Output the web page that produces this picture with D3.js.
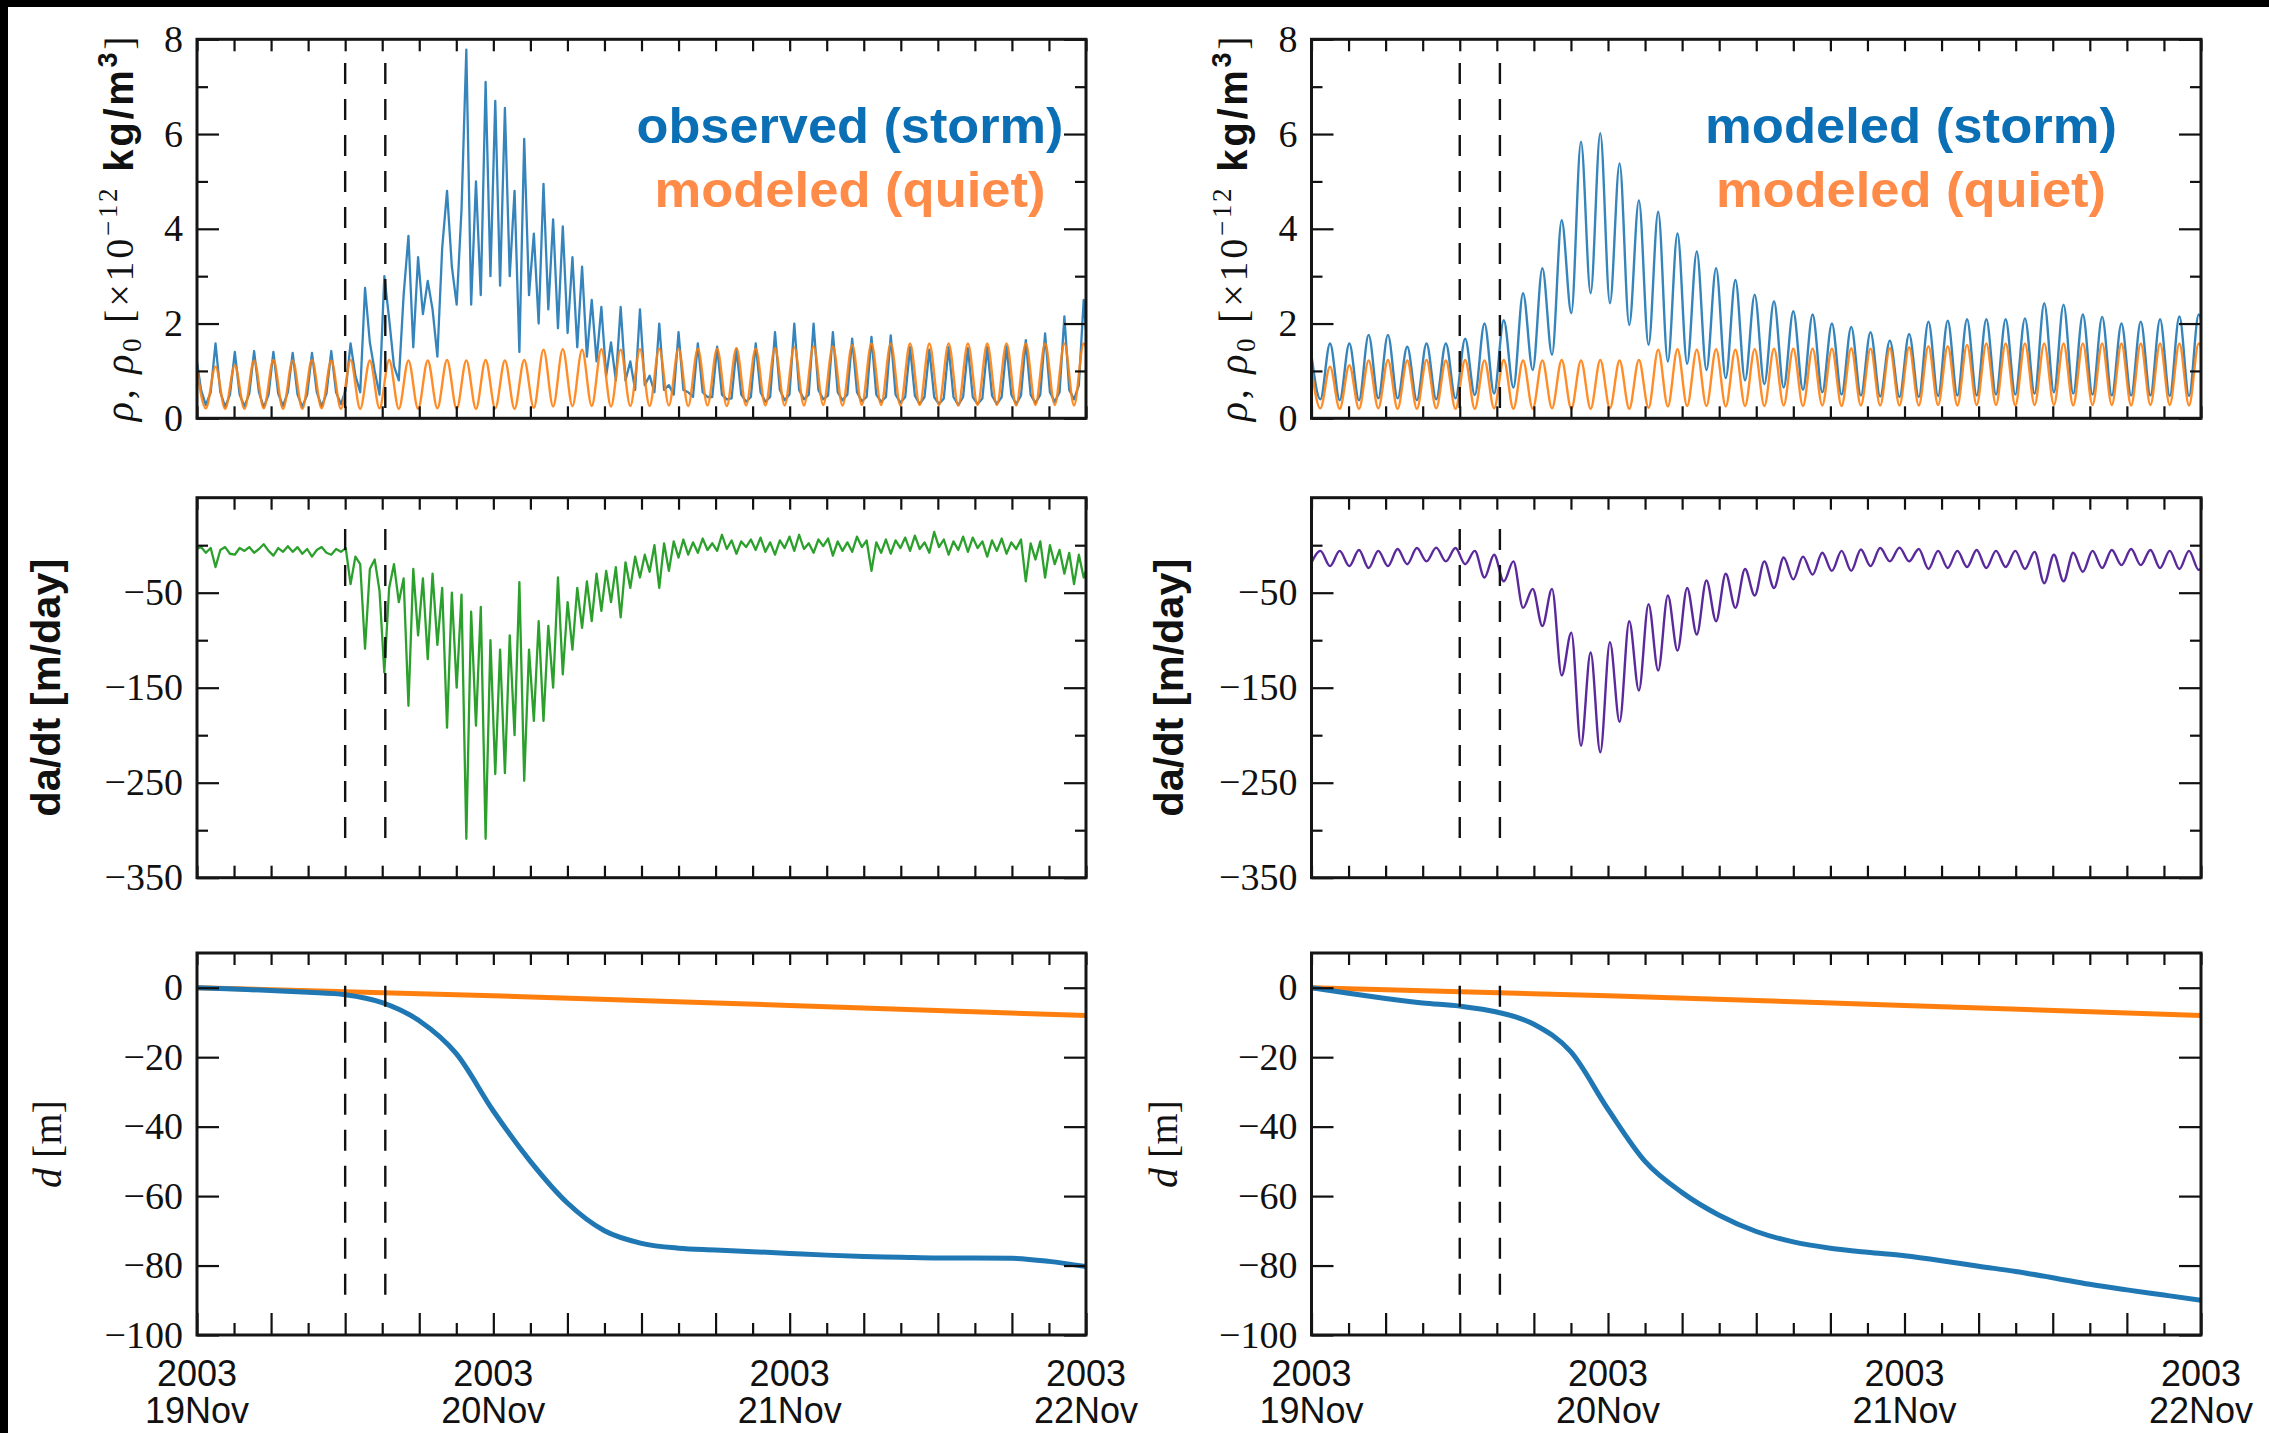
<!DOCTYPE html>
<html>
<head>
<meta charset="utf-8">
<script src="https://cdn.jsdelivr.net/npm/d3@7"></script>
<style>
  html, body { margin: 0; padding: 0; background: #000; }
  svg { display: block; }
</style>
</head>
<body>
<div id="chart"></div>
<script>
// Orbit sampling: one peak per orbit, first peak at 1.5 h
const orbitPeriod = 1.5625; // hours
const gridStart = -0.0625;  // hours from 19 Nov 00:00
const eventHours = [12, 15.25];
const dayTickHours = [0, 24, 48, 72];
const yearLabel = "2003";

// density ticks [x10^-12 kg/m^3]
const densityTicks = [0, 1, 2, 3, 4, 5, 6, 7, 8];
const densityLabels = [0, 2, 4, 6, 8];
// da/dt ticks [m/day]
const dadtTicks = [-350, -300, -250, -200, -150, -100, -50, 0];
const dadtLabels = [-350, -250, -150, -50];
// d ticks [m]
const decayTicks = [-100, -80, -60, -40, -20, 0];

// modeled quiet density, half-orbit samples (peak, trough) per orbit
const quietDensity = [
  1.15, 0.21, 1.09, 0.20, 1.12, 0.20, 1.22, 0.21, 1.23, 0.20, 1.22, 0.20,
  1.23, 0.21, 1.22, 0.20, 1.23, 0.20, 1.22, 0.21, 1.23, 0.20, 1.22, 0.20,
  1.22, 0.21, 1.23, 0.20, 1.22, 0.20, 1.23, 0.21, 1.22, 0.20, 1.23, 0.22,
  1.45, 0.25, 1.46, 0.26, 1.45, 0.26, 1.46, 0.25, 1.45, 0.26, 1.46, 0.26,
  1.47, 0.27, 1.47, 0.26, 1.47, 0.27, 1.47, 0.26, 1.48, 0.27, 1.47, 0.27,
  1.48, 0.27, 1.50, 0.27, 1.52, 0.28, 1.52, 0.27, 1.55, 0.28, 1.58, 0.28,
  1.58, 0.27, 1.58, 0.28, 1.58, 0.28, 1.58, 0.27, 1.58, 0.28, 1.58, 0.28,
  1.58, 0.27, 1.58, 0.28, 1.58, 0.28, 1.58, 0.27, 1.58, 0.28
];

// observed storm density, quarter-orbit samples (peak, q1, trough, q3)
const observedDensity = [
  1.30, 0.60, 0.28, 0.55,
  1.58, 0.55, 0.24, 0.50,
  1.40, 0.50, 0.25, 0.52,
  1.42, 0.55, 0.23, 0.50,
  1.40, 0.52, 0.26, 0.55,
  1.38, 0.50, 0.24, 0.50,
  1.38, 0.55, 0.25, 0.52,
  1.42, 0.55, 0.30, 0.60,
  1.58, 0.90, 0.55, 2.75,
  1.60, 1.00, 0.50, 3.00,
  2.10, 1.10, 0.80, 2.60,
  3.85, 1.50, 3.40, 2.20,
  2.90, 2.30, 1.30, 3.60,
  4.80, 3.20, 2.40, 4.40,
  7.78, 2.40, 5.00, 2.60,
  7.10, 3.00, 6.70, 2.80,
  6.55, 3.00, 4.80, 1.40,
  5.90, 2.60, 3.90, 2.00,
  4.95, 2.30, 4.20, 1.90,
  4.05, 1.80, 3.40, 1.50,
  3.20, 1.30, 2.50, 1.20,
  2.35, 0.90, 1.60, 0.80,
  2.35, 0.80, 1.20, 0.60,
  2.30, 0.70, 0.90, 0.55,
  2.00, 0.60, 0.70, 0.50,
  1.82, 0.60, 0.55, 0.45,
  1.58, 0.55, 0.45, 0.45,
  1.51, 0.50, 0.40, 0.42,
  1.47, 0.50, 0.35, 0.45,
  1.58, 0.55, 0.35, 0.45,
  1.82, 0.60, 0.38, 0.50,
  2.00, 0.60, 0.40, 0.50,
  2.00, 0.60, 0.40, 0.48,
  1.82, 0.55, 0.38, 0.50,
  1.68, 0.55, 0.36, 0.45,
  1.72, 0.50, 0.35, 0.45,
  1.75, 0.50, 0.33, 0.45,
  1.50, 0.48, 0.30, 0.45,
  1.45, 0.45, 0.30, 0.42,
  1.50, 0.45, 0.28, 0.45,
  1.48, 0.45, 0.30, 0.42,
  1.50, 0.48, 0.30, 0.45,
  1.52, 0.50, 0.30, 0.48,
  1.65, 0.50, 0.32, 0.50,
  1.79, 0.55, 0.35, 0.55,
  2.15, 0.60, 0.40, 0.70,
  2.50, 1.20
];

// modeled storm density, half-orbit samples (peak, trough)
const modeledDensity = [
  1.45, 0.40, 1.58, 0.38, 1.58, 0.38, 1.76, 0.42, 1.76, 0.42, 1.51, 0.38,
  1.58, 0.40, 1.58, 0.42, 1.68, 0.49, 2.00, 0.52, 2.07, 0.65, 2.64, 1.02,
  3.17, 1.34, 4.18, 2.22, 5.84, 2.64, 6.02, 2.43, 5.38, 1.97, 4.60, 1.55,
  4.36, 1.20, 3.90, 1.15, 3.52, 1.02, 3.17, 0.85, 2.92, 0.80, 2.61, 0.72,
  2.47, 0.65, 2.26, 0.60, 2.19, 0.55, 2.00, 0.50, 1.93, 0.48, 1.82, 0.46,
  1.64, 0.45, 1.78, 0.45, 2.04, 0.47, 2.06, 0.48, 2.09, 0.48, 2.09, 0.50,
  2.09, 0.50, 2.11, 0.52, 2.43, 0.55, 2.40, 0.52, 2.19, 0.50, 2.14, 0.48,
  2.00, 0.48, 2.04, 0.48, 2.09, 0.47, 2.15, 0.47, 2.19, 0.47
];

// observed da/dt [m/day], quarter-orbit samples
const observedDadt = [
  -4, -2, -8, -3,
  -23, -5, -2, -9,
  -10, -3, -6, -2,
  -8, -4, 1, -6,
  -11, -3, -7, -1,
  -7, -2, -9, -4,
  -12, -5, -2, -8,
  -10, -4, -7, -3,
  -41, -12, -20, -109,
  -25, -15, -48, -134,
  -45, -20, -60, -35,
  -169, -25, -95, -35,
  -120, -30, -105, -45,
  -192, -50, -150, -52,
  -309, -70, -190, -65,
  -309, -100, -241, -110,
  -240, -95, -200, -39,
  -248, -110, -185, -80,
  -185, -85, -150, -34,
  -136, -60, -110, -45,
  -87, -38, -80, -30,
  -69, -27, -60, -23,
  -76, -18, -45, -12,
  -34, -10, -28, 0,
  -45, 2, -27, 4,
  -13, 6, -10, 3,
  -8, 7, -5, 2,
  -6, 11, -4, 5,
  -9, 4, -2, 6,
  -5, 8, -7, 3,
  -10, 5, -3, 9,
  -6, 11, -4, 2,
  -8, 6, -1, 7,
  -11, 4, -6, 3,
  -7, 9, -2, 5,
  -27, 3, -8, 6,
  -9, 5, -3, 8,
  -6, 10, -4, 3,
  -8, 14, -2, 6,
  -10, 4, -5, 9,
  -7, 8, -3, 4,
  -12, 5, -6, 7,
  -9, 3, -4, 6,
  -38, 2, -15, 4,
  -34, 0, -20, -5,
  -30, -8, -41, -10,
  -34, -20
];

// modeled da/dt [m/day], half-orbit samples (dip, top)
const modeledDadt = [
  -20, -6, -22, -6, -22, -5, -24, -6, -22, -4, -20, -3,
  -17, -2.5, -17, -3, -20, -6, -34, -10, -38, -17, -66, -46,
  -85, -46, -137, -92, -211, -113, -218, -102, -186, -80, -153, -62,
  -132, -53, -111, -45, -94, -37, -80, -30, -66, -25, -53, -17,
  -45, -13, -36, -12, -31, -8, -27, -6, -27, -4.5, -22, -3,
  -17, -2.5, -17, -4, -25, -6, -24, -6, -23, -5, -24, -6,
  -23, -6, -25, -7, -40, -10, -38, -8, -28, -6, -24, -5,
  -21, -4, -21, -5, -24, -6, -25, -6, -26, -7
];

// orbit decay d [m], every 3 hours
const decayHours = [0, 3, 6, 9, 12, 15, 18, 21, 24, 27, 30, 33, 36,
  39, 42, 45, 48, 51, 54, 57, 60, 63, 66, 69, 72];
const observedDecay = [0, -0.4, -0.8, -1.3, -2, -4.3, -9.5, -19, -35.5,
  -50, -62, -70, -73.6, -75, -75.5, -76, -76.5, -77, -77.4, -77.6, -77.8,
  -77.8, -77.9, -78.8, -80.3];
const modeledDecay = [0, -1.6, -3.1, -4.4, -5.3, -7, -10.5, -18.5, -35,
  -50, -59, -65.5, -70.2, -73.2, -75, -76.2, -77.2, -78.6, -80.2, -81.7,
  -83.5, -85.4, -87, -88.5, -90];
const quietDecayHours = [0, 24, 48, 72];
const quietDecay = [0, -2.3, -5.1, -8];

const serif = "'Liberation Serif', 'Times New Roman', serif";
const sans = "'Liberation Sans', Arial, sans-serif";
const fmtTick = (d) => (d < 0 ? "\u2212" + Math.abs(d) : String(d));

function draw() {
  const W = 2269, H = 1433;
  const svg = d3.select("#chart").append("svg").attr("width", W).attr("height", H);

  // black frame of the scanned figure
  svg.append("rect").attr("width", W).attr("height", H).attr("fill", "#000");
  svg.append("rect").attr("x", 8).attr("y", 7)
    .attr("width", W - 8).attr("height", H - 7).attr("fill", "#fff");

  const cols = [{ x0: 197, x1: 1086 }, { x0: 1311.5, x1: 2201 }];
  const rows = [
    { y0: 39.3, y1: 418.3, domain: [0, 8], ticks: densityTicks, labels: densityLabels, dash: [0.1, 7.5] },
    { y0: 497.7, y1: 877.7, domain: [-350, 50], ticks: dadtTicks, labels: dadtLabels, dash: [-314, 17] },
    { y0: 953, y1: 1335, domain: [-100, 10], ticks: decayTicks, labels: decayTicks, dash: [-91, 0.6] },
  ];

  const start = Date.UTC(2003, 10, 19);
  const toDate = (h) => new Date(start + h * 36e5);

  const halfGrid = (vals) => vals.map((v, j) => ({ t: gridStart + (j * orbitPeriod) / 2, v }));
  const quarterGrid = (vals) => vals.map((v, i) => ({ t: gridStart + (i * orbitPeriod) / 4, v }));
  const onHours = (hours, vals) => vals.map((v, i) => ({ t: hours[i], v }));

  const blue = "#1f77b4", orange = "#ff7f0e", green = "#2ca02c", purple = "#5a2a9c";

  // series for each panel [row][col]
  const panels = [
    [
      [
        { data: quarterGrid(observedDensity), color: blue, width: 2.3, curve: d3.curveLinear, opacity: 0.9 },
        { data: halfGrid(quietDensity), color: orange, width: 2.4, curve: d3.curveMonotoneX, opacity: 0.9 },
      ],
      [
        { data: halfGrid(modeledDensity), color: blue, width: 2.4, curve: d3.curveMonotoneX, opacity: 0.9 },
        { data: halfGrid(quietDensity), color: orange, width: 2.4, curve: d3.curveMonotoneX, opacity: 0.9 },
      ],
    ],
    [
      [{ data: quarterGrid(observedDadt), color: green, width: 2.3, curve: d3.curveLinear, opacity: 1 }],
      [{ data: halfGrid(modeledDadt), color: purple, width: 2.4, curve: d3.curveMonotoneX, opacity: 1 }],
    ],
    [
      [
        { data: onHours(quietDecayHours, quietDecay), color: orange, width: 5, curve: d3.curveMonotoneX, opacity: 1 },
        { data: onHours(decayHours, observedDecay), color: blue, width: 5, curve: d3.curveMonotoneX, opacity: 1 },
      ],
      [
        { data: onHours(quietDecayHours, quietDecay), color: orange, width: 5, curve: d3.curveMonotoneX, opacity: 1 },
        { data: onHours(decayHours, modeledDecay), color: blue, width: 5, curve: d3.curveMonotoneX, opacity: 1 },
      ],
    ],
  ];

  rows.forEach((row, ri) => {
    cols.forEach((col, ci) => {
      const x = d3.scaleUtc().domain([toDate(0), toDate(72)]).range([col.x0, col.x1]);
      const y = d3.scaleLinear().domain(row.domain).range([row.y1, row.y0]);
      const g = svg.append("g").attr("class", `panel-${ri}-${ci}`);

      // clip the curves to the plotting area
      const clipId = `clip-${ri}-${ci}`;
      svg.append("clipPath").attr("id", clipId).append("rect")
        .attr("x", col.x0).attr("y", row.y0)
        .attr("width", col.x1 - col.x0).attr("height", row.y1 - row.y0);

      const lines = g.append("g").attr("clip-path", `url(#${clipId})`);
      panels[ri][ci].forEach((s) => {
        const line = d3.line().curve(s.curve)
          .x((d) => x(toDate(d.t)))
          .y((d) => y(d.v));
        lines.append("path").datum(s.data)
          .attr("d", line)
          .attr("fill", "none")
          .attr("stroke", s.color)
          .attr("stroke-width", s.width)
          .attr("stroke-linejoin", "round")
          .attr("opacity", s.opacity);
      });

      // storm onset markers
      g.selectAll("line.event").data(eventHours).enter().append("line")
        .attr("class", "event")
        .attr("x1", (h) => x(toDate(h))).attr("x2", (h) => x(toDate(h)))
        .attr("y1", y(row.dash[1])).attr("y2", y(row.dash[0]))
        .attr("stroke", "#111").attr("stroke-width", 2.4)
        .attr("stroke-dasharray", "21,15");

      // axes with inward ticks
      const longBottom = ri === 2;
      const bottom = g.append("g").attr("transform", `translate(0,${row.y1})`)
        .call(d3.axisBottom(x).ticks(d3.utcHour.every(3)).tickSize(-12).tickFormat(""));
      bottom.selectAll(".tick line")
        .attr("y2", (d) => (longBottom && d.getUTCHours() % 6 === 0 ? -22 : -12));
      const top = g.append("g").attr("transform", `translate(0,${row.y0})`)
        .call(d3.axisTop(x).ticks(d3.utcHour.every(3)).tickSize(-12).tickFormat(""));
      const left = g.append("g").attr("transform", `translate(${col.x0},0)`)
        .call(d3.axisLeft(y).tickValues(row.ticks).tickSize(-12).tickPadding(14)
          .tickFormat((d) => (row.labels.includes(d) ? fmtTick(d) : "")));
      left.selectAll(".tick line").attr("x2", (d) => (row.labels.includes(d) ? 22 : 11));
      const right = g.append("g").attr("transform", `translate(${col.x1},0)`)
        .call(d3.axisRight(y).tickValues(row.ticks).tickSize(-12).tickFormat(""));
      right.selectAll(".tick line").attr("x2", (d) => (row.labels.includes(d) ? -22 : -11));

      [bottom, top, left, right].forEach((a) => {
        a.select(".domain").remove();
        a.selectAll(".tick line").attr("stroke", "#111").attr("stroke-width", 2.2);
      });
      left.selectAll(".tick text")
        .attr("font-family", serif).attr("font-size", 38).attr("fill", "#111");

      // frame
      g.append("rect")
        .attr("x", col.x0).attr("y", row.y0)
        .attr("width", col.x1 - col.x0).attr("height", row.y1 - row.y0)
        .attr("fill", "none").attr("stroke", "#151515").attr("stroke-width", 3);

      // date labels under the bottom row
      if (ri === 2) {
        const dayFmt = d3.utcFormat("%d%b");
        dayTickHours.forEach((h) => {
          const t = g.append("text")
            .attr("text-anchor", "middle")
            .attr("font-family", sans).attr("font-size", 36).attr("fill", "#111");
          t.append("tspan").attr("x", x(toDate(h))).attr("y", 1386).text(yearLabel);
          t.append("tspan").attr("x", x(toDate(h))).attr("y", 1423).text(dayFmt(toDate(h)));
        });
      }
    });
  });

  // y-axis titles
  const midY = rows.map((r) => (r.y0 + r.y1) / 2);
  const titleX = [[123, 49, 51], [1237, 1172, 1167]];

  titleX.forEach((xs) => {
    // density
    const t = svg.append("text")
      .attr("transform", `translate(${xs[0] + 10},${midY[0]}) rotate(-90)`)
      .attr("text-anchor", "middle")
      .attr("font-family", serif).attr("font-size", 40).attr("fill", "#111")
      .attr("textLength", 385).attr("lengthAdjust", "spacing");
    t.append("tspan").attr("font-style", "italic").text("ρ");
    t.append("tspan").text(", ");
    t.append("tspan").attr("font-style", "italic").text("ρ");
    t.append("tspan").attr("font-size", 27).attr("dy", 8).text("0");
    t.append("tspan").attr("dy", -8).text(" [×10");
    t.append("tspan").attr("font-size", 27).attr("dy", -16).text("\u221212");
    t.append("tspan").attr("dy", 16).attr("font-family", sans).attr("font-weight", "bold").text(" kg/m");
    t.append("tspan").attr("dy", -16).attr("font-size", 27)
      .attr("font-family", sans).attr("font-weight", "bold").text("3");
    t.append("tspan").attr("dy", 16).text("]");

    // da/dt
    svg.append("text")
      .attr("transform", `translate(${xs[1] + 11},${midY[1]}) rotate(-90)`)
      .attr("text-anchor", "middle")
      .attr("font-family", sans).attr("font-weight", "bold").attr("font-size", 41).attr("fill", "#111")
      .attr("textLength", 258).attr("lengthAdjust", "spacingAndGlyphs")
      .text("da/dt [m/day]");

    // d
    const d = svg.append("text")
      .attr("transform", `translate(${xs[2] + 10},${midY[2]}) rotate(-90)`)
      .attr("text-anchor", "middle")
      .attr("font-family", serif).attr("font-size", 40).attr("fill", "#111");
    d.append("tspan").attr("font-style", "italic").text("d");
    d.append("tspan").text(" [m]");
  });

  // in-panel legends
  const legends = [
    { cx: 850, items: [["observed (storm)", "#0b6fb5", 427], ["modeled (quiet)", "#ff8b48", 391]] },
    { cx: 1911, items: [["modeled (storm)", "#0b6fb5", 412], ["modeled (quiet)", "#ff8b48", 390]] },
  ];
  legends.forEach((lg) => {
    lg.items.forEach(([label, color, len], i) => {
      svg.append("text")
        .attr("x", lg.cx).attr("y", 143 + i * 64)
        .attr("text-anchor", "middle")
        .attr("font-family", sans).attr("font-weight", "bold").attr("font-size", 50)
        .attr("fill", color)
        .attr("textLength", len).attr("lengthAdjust", "spacingAndGlyphs")
        .text(label);
    });
  });
}

draw();
</script>
</body>
</html>
